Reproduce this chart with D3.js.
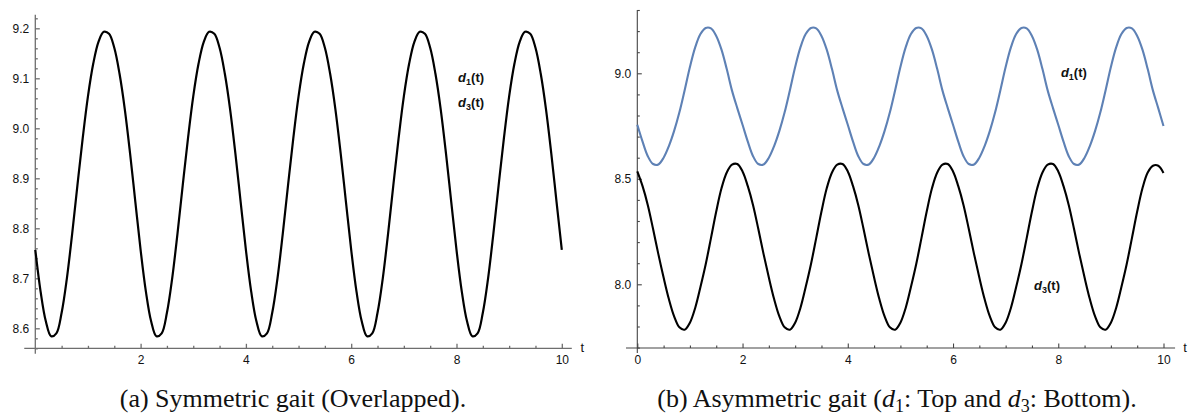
<!DOCTYPE html>
<html>
<head>
<meta charset="utf-8">
<script src="https://cdn.jsdelivr.net/npm/d3@7"></script>
<style>
  body { margin: 0; background: #ffffff; }
  svg { display: block; }
</style>
</head>
<body>
<svg id="fig" width="1199" height="418"></svg>
<script>
// Leg-length signals sampled every 0.1 s over t = 0 … 10.
const sampleStep = 0.1;

// (a) symmetric gait: d1(t) and d3(t) coincide
const symmetricD = [
  8.757, 8.674, 8.614, 8.584, 8.590, 8.631, 8.700, 8.789, 8.886, 8.980,
  9.064, 9.129, 9.173, 9.193, 9.189, 9.161, 9.109, 9.038, 8.950, 8.853,
  8.757, 8.674, 8.614, 8.584, 8.590, 8.631, 8.700, 8.789, 8.886, 8.980,
  9.064, 9.129, 9.173, 9.193, 9.189, 9.161, 9.109, 9.038, 8.950, 8.853,
  8.757, 8.674, 8.614, 8.584, 8.590, 8.631, 8.700, 8.789, 8.886, 8.980,
  9.064, 9.129, 9.173, 9.193, 9.189, 9.161, 9.109, 9.038, 8.950, 8.853,
  8.757, 8.674, 8.614, 8.584, 8.590, 8.631, 8.700, 8.789, 8.886, 8.980,
  9.064, 9.129, 9.173, 9.193, 9.189, 9.161, 9.109, 9.038, 8.950, 8.853,
  8.757, 8.674, 8.614, 8.584, 8.590, 8.631, 8.700, 8.789, 8.886, 8.980,
  9.064, 9.129, 9.173, 9.193, 9.189, 9.161, 9.109, 9.038, 8.950, 8.853,
  8.757
];

// (b) asymmetric gait, top curve d1(t)
const asymD1 = [
  8.756, 8.676, 8.607, 8.570, 8.568, 8.600, 8.655, 8.727, 8.815, 8.920,
  9.030, 9.123, 9.186, 9.215, 9.213, 9.177, 9.112, 9.020, 8.918, 8.835,
  8.756, 8.676, 8.607, 8.570, 8.568, 8.600, 8.655, 8.727, 8.815, 8.920,
  9.030, 9.123, 9.186, 9.215, 9.213, 9.177, 9.112, 9.020, 8.918, 8.835,
  8.756, 8.676, 8.607, 8.570, 8.568, 8.600, 8.655, 8.727, 8.815, 8.920,
  9.030, 9.123, 9.186, 9.215, 9.213, 9.177, 9.112, 9.020, 8.918, 8.835,
  8.756, 8.676, 8.607, 8.570, 8.568, 8.600, 8.655, 8.727, 8.815, 8.920,
  9.030, 9.123, 9.186, 9.215, 9.213, 9.177, 9.112, 9.020, 8.918, 8.835,
  8.756, 8.676, 8.607, 8.570, 8.568, 8.600, 8.655, 8.727, 8.815, 8.920,
  9.030, 9.123, 9.186, 9.215, 9.213, 9.177, 9.112, 9.020, 8.918, 8.835,
  8.750
];

// (b) asymmetric gait, bottom curve d3(t)
const asymD3 = [
  8.535, 8.465, 8.375, 8.262, 8.143, 8.032, 7.930, 7.848, 7.796, 7.785,
  7.818, 7.888, 7.987, 8.095, 8.219, 8.345, 8.455, 8.530, 8.567, 8.570,
  8.535, 8.465, 8.375, 8.262, 8.143, 8.032, 7.930, 7.848, 7.796, 7.785,
  7.818, 7.888, 7.987, 8.095, 8.219, 8.345, 8.455, 8.530, 8.567, 8.570,
  8.535, 8.465, 8.375, 8.262, 8.143, 8.032, 7.930, 7.848, 7.796, 7.785,
  7.818, 7.888, 7.987, 8.095, 8.219, 8.345, 8.455, 8.530, 8.567, 8.570,
  8.535, 8.465, 8.375, 8.262, 8.143, 8.032, 7.930, 7.848, 7.796, 7.785,
  7.818, 7.888, 7.987, 8.095, 8.219, 8.345, 8.455, 8.530, 8.567, 8.570,
  8.535, 8.465, 8.375, 8.262, 8.143, 8.032, 7.930, 7.848, 7.796, 7.785,
  7.818, 7.888, 7.987, 8.095, 8.219, 8.345, 8.455, 8.530, 8.562, 8.562,
  8.528
];

// Tick positions
const xTicksLeft  = [2, 4, 6, 8, 10];
const xTicksRight = [0, 2, 4, 6, 8, 10];
const xMinorTicks = [0.5, 1, 1.5, 2.5, 3, 3.5, 4.5, 5, 5.5, 6.5, 7, 7.5, 8.5, 9, 9.5];
const yTicksLeft  = [8.6, 8.7, 8.8, 8.9, 9.0, 9.1, 9.2];
const yTicksRight = [8.0, 8.5, 9.0];

const svg = d3.select("#fig");
svg.append("rect").attr("width", 1199).attr("height", 418).attr("fill", "#ffffff");

const tickFont = "'Liberation Sans', Arial, Helvetica, sans-serif";
const serifFont = "'Liberation Serif', 'Times New Roman', Times, serif";

function drawPanel(cfg) {
  const g = svg.append("g");
  const x = d3.scaleLinear().domain([0, 10]).range(cfg.xRange);
  const y = d3.scaleLinear().domain(cfg.yDomain).range(cfg.yRange);
  const axisY = y(cfg.xAxisAt);
  const axisX = x(0);

  // axis lines
  g.append("line")
    .attr("x1", x(cfg.xExtent[0])).attr("x2", x(cfg.xExtent[1]))
    .attr("y1", axisY).attr("y2", axisY)
    .attr("stroke", cfg.axisColor).attr("stroke-width", cfg.axisWidth);
  g.append("line")
    .attr("x1", axisX).attr("x2", axisX)
    .attr("y1", y(cfg.yExtent[0])).attr("y2", y(cfg.yExtent[1]))
    .attr("stroke", cfg.axisColor).attr("stroke-width", cfg.axisWidth);

  const styleAxis = sel => {
    sel.select(".domain").remove();
    sel.selectAll(".tick line").attr("stroke", cfg.axisColor).attr("stroke-width", cfg.axisWidth);
    sel.selectAll("text").attr("fill", "#111").attr("font-family", tickFont).attr("font-size", 12);
    sel.attr("font-family", null).attr("font-size", null);
  };

  // x axis: major ticks (labelled) and minor ticks, drawn inward
  g.append("g").attr("transform", `translate(0,${axisY})`)
    .call(d3.axisBottom(x).tickValues(cfg.xTicks).tickSize(-4.5).tickPadding(7).tickFormat(d3.format("d")))
    .call(styleAxis);
  g.append("g").attr("transform", `translate(0,${axisY})`)
    .call(d3.axisBottom(x).tickValues(xMinorTicks).tickSize(-2.5).tickFormat(""))
    .call(styleAxis);

  // y axis: major ticks (labelled) and minor ticks
  g.append("g").attr("transform", `translate(${axisX},0)`)
    .call(d3.axisLeft(y).tickValues(cfg.yTicks).tickSize(-4.5).tickPadding(6).tickFormat(d3.format(".1f")))
    .call(styleAxis);
  g.append("g").attr("transform", `translate(${axisX},0)`)
    .call(d3.axisLeft(y).tickValues(cfg.yMinor).tickSize(-2.5).tickFormat(""))
    .call(styleAxis);

  // axis name
  g.append("text")
    .attr("x", x(cfg.tLabelAt)).attr("y", axisY + 4)
    .attr("text-anchor", "middle")
    .attr("font-family", tickFont).attr("font-size", 13).attr("fill", "#111")
    .text("t");

  const line = d3.line()
    .x((d, i) => x(i * sampleStep))
    .y(d => y(d))
    .curve(d3.curveCatmullRom.alpha(0.5));

  cfg.series.forEach(s => {
    g.append("path")
      .datum(s.values)
      .attr("d", line)
      .attr("fill", "none")
      .attr("stroke", s.color)
      .attr("stroke-width", s.width)
      .attr("stroke-linejoin", "round");
  });

  // curve labels d_i(t)
  cfg.labels.forEach(l => {
    const t = g.append("text")
      .attr("x", x(l.t)).attr("y", y(l.v))
      .attr("font-family", tickFont).attr("font-weight", "bold")
      .attr("font-size", 13).attr("fill", "#111");
    t.append("tspan").attr("font-style", "italic").text("d");
    t.append("tspan").attr("font-size", 9).attr("dy", 3).text(l.sub);
    t.append("tspan").attr("dy", -3).text("(t)");
  });
}

drawPanel({
  xRange: [35.3, 561.8],
  yDomain: [8.6, 9.2],
  yRange: [328.3, 28.3],
  xAxisAt: 8.56,
  xExtent: [-0.21, 10.19],
  yExtent: [8.549, 9.227],
  axisColor: "#6e6e6e",
  axisWidth: 1.3,
  xTicks: xTicksLeft,
  yTicks: yTicksLeft,
  yMinor: d3.range(8.56, 9.23, 0.02).filter(v => Math.abs(v * 10 - Math.round(v * 10)) > 0.05),
  tLabelAt: 10.39,
  series: [
    { values: symmetricD, color: "#000000", width: 2.2 }
  ],
  labels: [
    { t: 8.03, v: 9.092, sub: "1" },
    { t: 8.03, v: 9.042, sub: "3" }
  ]
});

drawPanel({
  xRange: [637.3, 1163.5],
  yDomain: [8.0, 9.0],
  yRange: [284.3, 73.3],
  xAxisAt: 7.698,
  xExtent: [-0.215, 10.22],
  yExtent: [7.674, 9.30],
  axisColor: "#444444",
  axisWidth: 1.1,
  xTicks: xTicksRight,
  yTicks: yTicksRight,
  yMinor: [7.7, 7.8, 7.9, 8.1, 8.2, 8.3, 8.4, 8.6, 8.7, 8.8, 8.9, 9.1, 9.2, 9.3],
  tLabelAt: 10.41,
  series: [
    { values: asymD1, color: "#5e81b5", width: 2.1 },
    { values: asymD3, color: "#000000", width: 2.1 }
  ],
  labels: [
    { t: 8.05, v: 8.981, sub: "1" },
    { t: 7.54, v: 7.974, sub: "3" }
  ]
});

// captions
svg.append("text")
  .attr("x", 293).attr("y", 407)
  .attr("text-anchor", "middle")
  .attr("font-family", serifFont).attr("font-size", 26).attr("fill", "#111")
  .text("(a) Symmetric gait (Overlapped).");

const capB = svg.append("text")
  .attr("x", 897).attr("y", 407)
  .attr("text-anchor", "middle")
  .attr("font-family", serifFont).attr("font-size", 26).attr("fill", "#111");
capB.append("tspan").text("(b) Asymmetric gait (");
capB.append("tspan").attr("font-style", "italic").text("d");
capB.append("tspan").attr("font-size", 18).attr("dy", 5).text("1");
capB.append("tspan").attr("dy", -5).text(": Top and ");
capB.append("tspan").attr("font-style", "italic").text("d");
capB.append("tspan").attr("font-size", 18).attr("dy", 5).text("3");
capB.append("tspan").attr("dy", -5).text(": Bottom).");
</script>
</body>
</html>
